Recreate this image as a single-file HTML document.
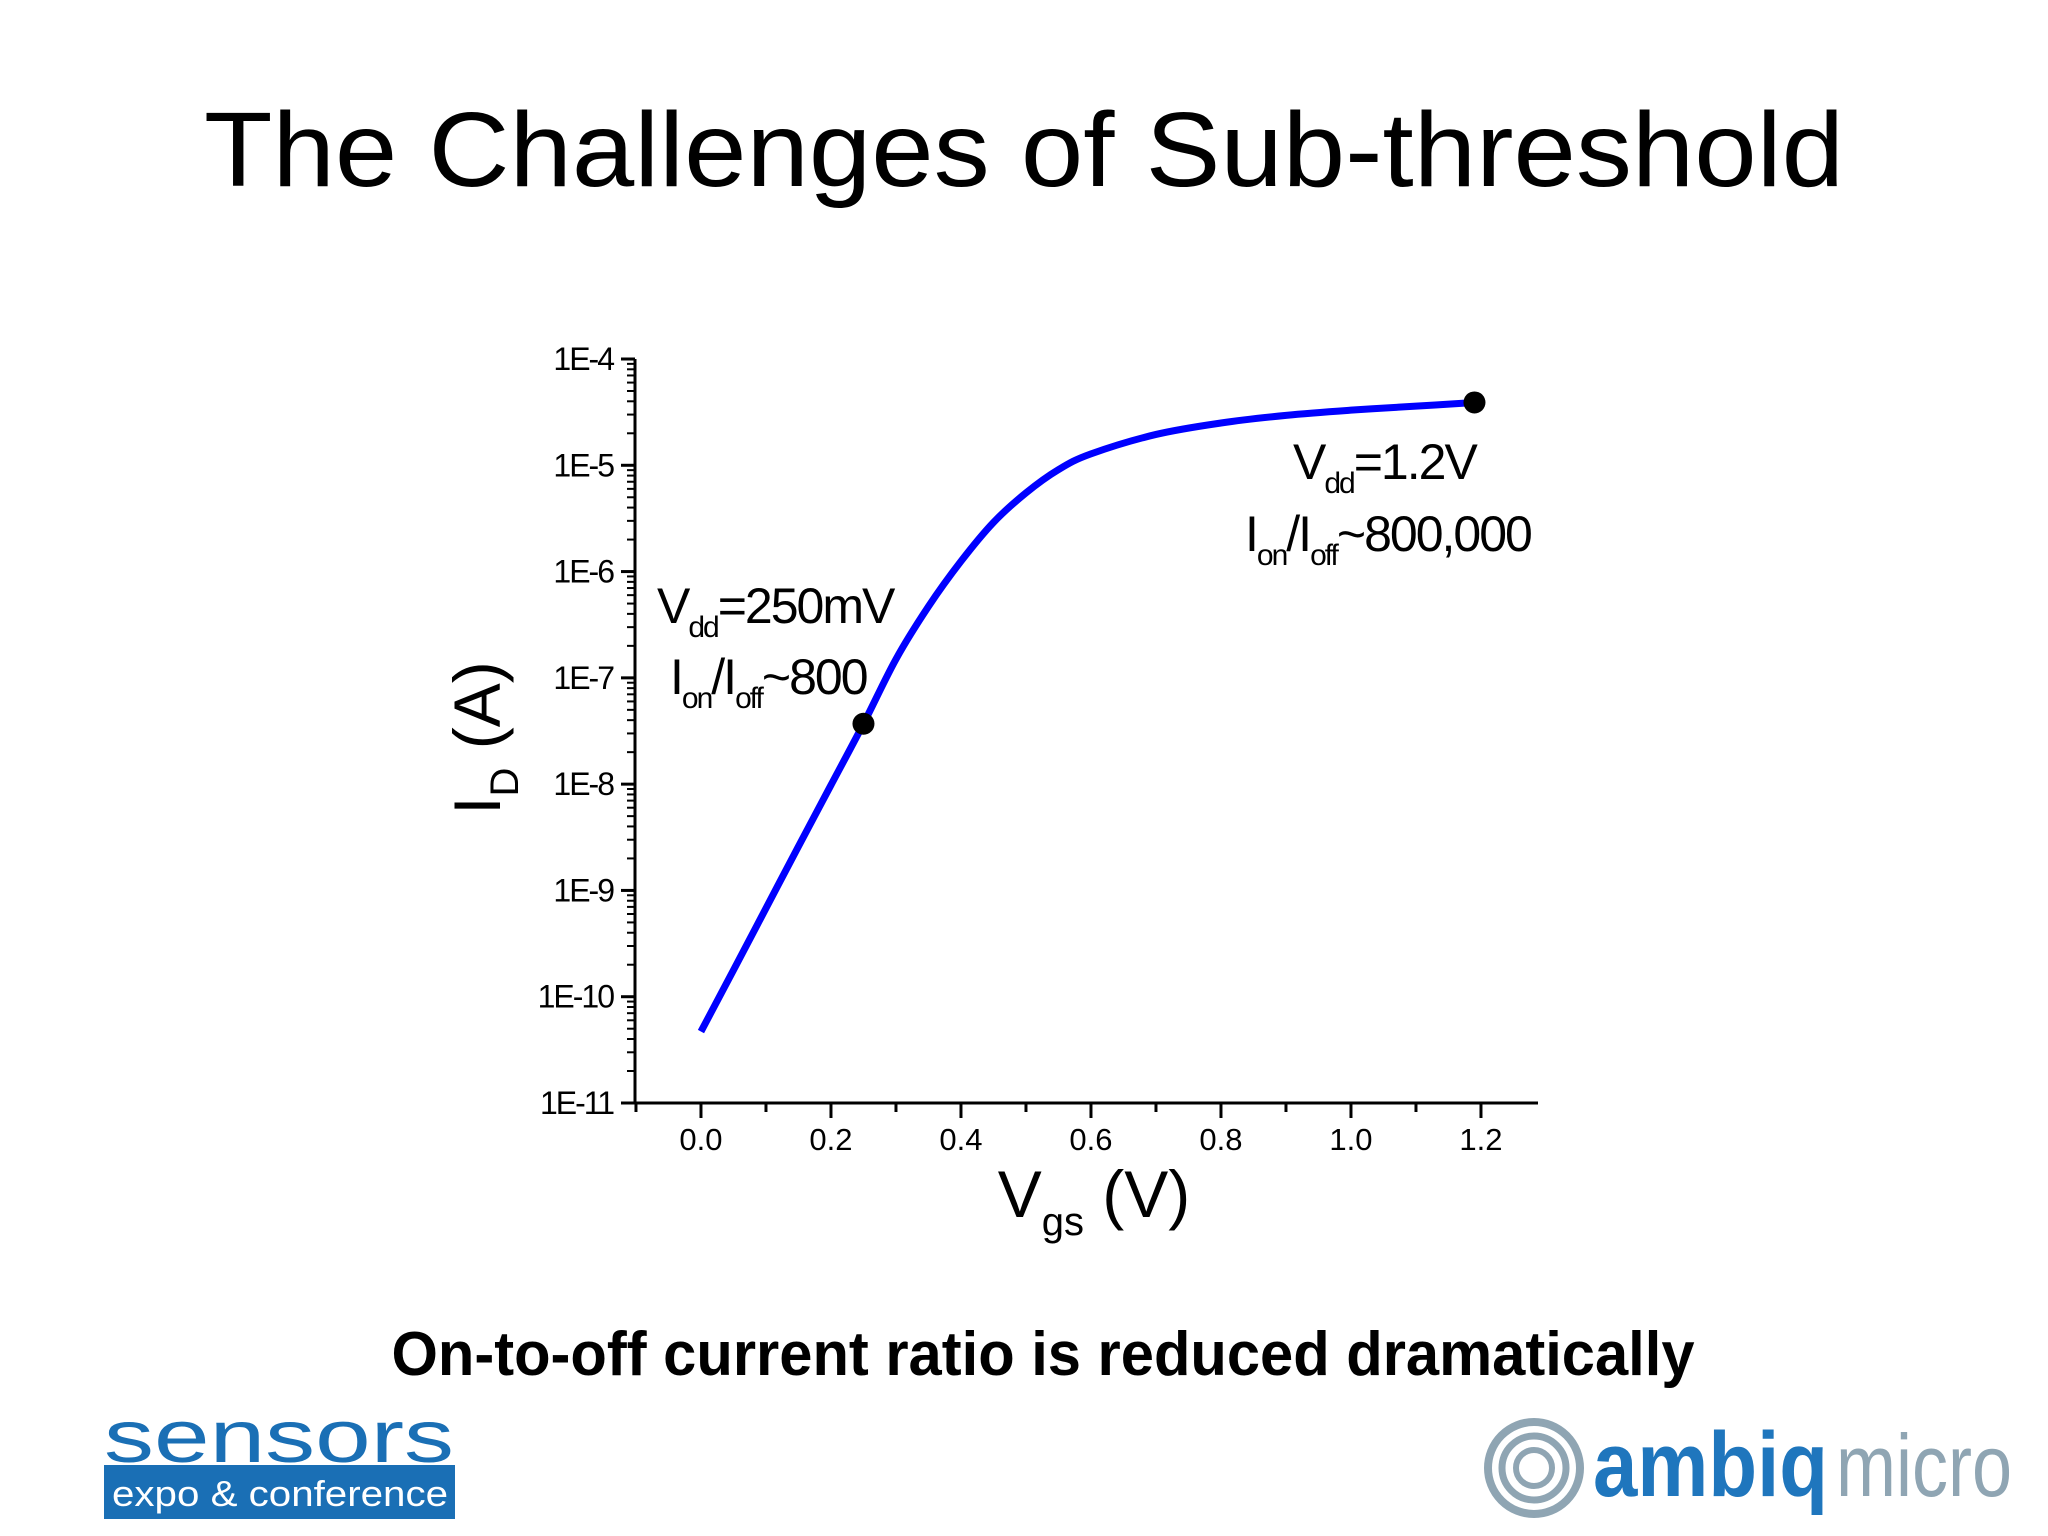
<!DOCTYPE html>
<html><head><meta charset="utf-8"><style>
html,body{margin:0;padding:0;background:#fff;}
svg{display:block;font-family:"Liberation Sans",sans-serif;}
</style></head><body>
<svg id="slide" width="2048" height="1536" viewBox="0 0 2048 1536">
<text x="1024" y="186" text-anchor="middle" font-size="106" textLength="1640" lengthAdjust="spacingAndGlyphs">The Challenges of Sub-threshold</text>
<g id="chart"></g>
<text x="1043" y="1375" text-anchor="middle" font-size="62" font-weight="bold" textLength="1303" lengthAdjust="spacingAndGlyphs">On-to-off current ratio is reduced dramatically</text>
<g>
<text x="104" y="1462" font-size="74" fill="#1a6fb5" textLength="350" lengthAdjust="spacingAndGlyphs">sensors</text>
<rect x="104" y="1465" width="351" height="54" fill="#1a6fb5"/>
<text x="112" y="1506" font-size="36" fill="#fff" textLength="336" lengthAdjust="spacingAndGlyphs">expo &amp; conference</text>
</g>
<g>
<circle cx="1534" cy="1468" r="46" fill="none" stroke="#8fa5b3" stroke-width="8"/>
<circle cx="1534" cy="1468" r="32" fill="none" stroke="#8fa5b3" stroke-width="7"/>
<circle cx="1534" cy="1468" r="18" fill="none" stroke="#8fa5b3" stroke-width="6"/>
<text x="1593" y="1496" font-size="92" font-weight="bold" fill="#1f76bd" textLength="235" lengthAdjust="spacingAndGlyphs">ambiq</text>
<text x="1836" y="1496" font-size="88" fill="#8fa5b3" textLength="176" lengthAdjust="spacingAndGlyphs">micro</text>
</g>
</svg>
<script>
const vgs = [0.0, 0.05, 0.1, 0.15, 0.2, 0.25, 0.3, 0.35, 0.4, 0.45, 0.5, 0.55, 0.6, 0.7, 0.8, 0.9, 1.0, 1.1, 1.19];
const idA = [4.7e-11, 1.78e-10, 6.8e-10, 2.6e-9, 9.8e-9, 3.7e-8, 1.5e-7, 4.7e-7, 1.25e-6, 2.9e-6, 5.5e-6, 9.1e-6, 1.28e-5, 1.95e-5, 2.5e-5, 2.95e-5, 3.3e-5, 3.6e-5, 3.9e-5];
const markedX = [0.25, 1.19];
const markedY = [3.7e-8, 3.9e-5];
const xTicks = [0.0, 0.2, 0.4, 0.6, 0.8, 1.0, 1.2];
const xTickLabels = ["0.0","0.2","0.4","0.6","0.8","1.0","1.2"];
const yDecades = [-11,-10,-9,-8,-7,-6,-5,-4];
const yTickLabels = ["1E-11","1E-10","1E-9","1E-8","1E-7","1E-6","1E-5","1E-4"];

const NS = "http://www.w3.org/2000/svg";
const g = document.getElementById('chart');
const X0 = 635, X1 = 1538, Y0 = 1103, Y1 = 359;
const xMin = -0.1015, xMax = xMin + (X1 - X0) / 650;
const sx = v => X0 + (v - xMin) / (xMax - xMin) * (X1 - X0);
const sy = v => Y0 - (Math.log10(v) + 11) / 7 * (Y0 - Y1);
function mk(tag, attrs, parent) {
  const e = document.createElementNS(NS, tag);
  for (const k in attrs) e.setAttribute(k, attrs[k]);
  (parent || g).appendChild(e);
  return e;
}
let e;
e = mk('line', {x1: X0, y1: Y1, x2: X0, y2: Y0, stroke: '#000', 'stroke-width': 3});


e = mk('line', {x1: X0, y1: Y0, x2: X1, y2: Y0, stroke: '#000', 'stroke-width': 3});


yDecades.forEach((d, i) => {
  const y = sy(Math.pow(10, d));
  const t = mk('line', {x1: X0 - 14, y1: y, x2: X0, y2: y, stroke: '#000', 'stroke-width': 3});
  
  
  const l = mk('text', {x: 613, y: y + 11, 'text-anchor': 'end', 'font-size': 32, 'letter-spacing': -2});
  l.textContent = yTickLabels[i];
  
  
  if (d < -4) {
    for (let m = 2; m <= 9; m++) {
      const ym = sy(m * Math.pow(10, d));
      const mt = mk('line', {x1: X0 - 8, y1: ym, x2: X0, y2: ym, stroke: '#000', 'stroke-width': 2});
      
      
    }
  }
});
xTicks.forEach((v, i) => {
  const x = sx(v);
  const t = mk('line', {x1: x, y1: Y0, x2: x, y2: Y0 + 15, stroke: '#000', 'stroke-width': 3});
  
  
  const l = mk('text', {x: x, y: 1150, 'text-anchor': 'middle', 'font-size': 31});
  l.textContent = xTickLabels[i];
  
  
});
[-0.1, 0.1, 0.3, 0.5, 0.7, 0.9, 1.1].forEach(v => {
  const x = sx(v);
  const t = mk('line', {x1: x, y1: Y0, x2: x, y2: Y0 + 9, stroke: '#000', 'stroke-width': 3});
  
  
});
const pts = vgs.map((v, i) => [sx(v), sy(idA[i])]);
let dstr = 'M' + pts[0][0] + ',' + pts[0][1];
for (let i = 0; i < pts.length - 1; i++) {
  const p0 = pts[Math.max(0, i - 1)], p1 = pts[i], p2 = pts[i + 1], p3 = pts[Math.min(pts.length - 1, i + 2)];
  const c1x = p1[0] + (p2[0] - p0[0]) / 6, c1y = p1[1] + (p2[1] - p0[1]) / 6;
  const c2x = p2[0] - (p3[0] - p1[0]) / 6, c2y = p2[1] - (p3[1] - p1[1]) / 6;
  dstr += ' C' + c1x + ',' + c1y + ' ' + c2x + ',' + c2y + ' ' + p2[0] + ',' + p2[1];
}
e = mk('path', {d: dstr, fill: 'none', stroke: '#0000ff', 'stroke-width': 7, 'stroke-linejoin': 'round'});


markedX.forEach((v, i) => {
  const c = mk('circle', {cx: sx(v), cy: sy(markedY[i]), r: 11, fill: '#000'});
  
  
});
function ann(x, y, parts, name) {
  const t = mk('text', {x: x, y: y, 'font-size': 50, 'letter-spacing': -2});
  
  
  parts.forEach(p => {
    const s = mk('tspan', p.sub ? {'font-size': 30, dy: 14} : {dy: p.up ? -14 : 0}, t);
    s.textContent = p.t;
  });
}
ann(657, 623, [{t:'V'},{t:'dd',sub:1},{t:'=250mV',up:1}], 'annotation-250mv-vdd');
ann(670, 694, [{t:'I'},{t:'on',sub:1},{t:'/I',up:1},{t:'off',sub:1},{t:'~800',up:1}], 'annotation-250mv-ratio');
ann(1293, 479, [{t:'V'},{t:'dd',sub:1},{t:'=1.2V',up:1}], 'annotation-1v2-vdd');
ann(1245, 551, [{t:'I'},{t:'on',sub:1},{t:'/I',up:1},{t:'off',sub:1},{t:'~800,000',up:1}], 'annotation-1v2-ratio');
e = mk('text', {x: 1094, y: 1217, 'text-anchor': 'middle', 'font-size': 66});


e.innerHTML = 'V<tspan font-size="40" dy="18">gs</tspan><tspan dy="-18"> (V)</tspan>';
e = mk('text', {x: 0, y: 0, 'text-anchor': 'middle', 'font-size': 66, transform: 'translate(500,738) rotate(-90)'});


e.innerHTML = 'I<tspan font-size="40" dy="18">D</tspan><tspan dy="-18"> (A)</tspan>';
</script>
</body></html>
